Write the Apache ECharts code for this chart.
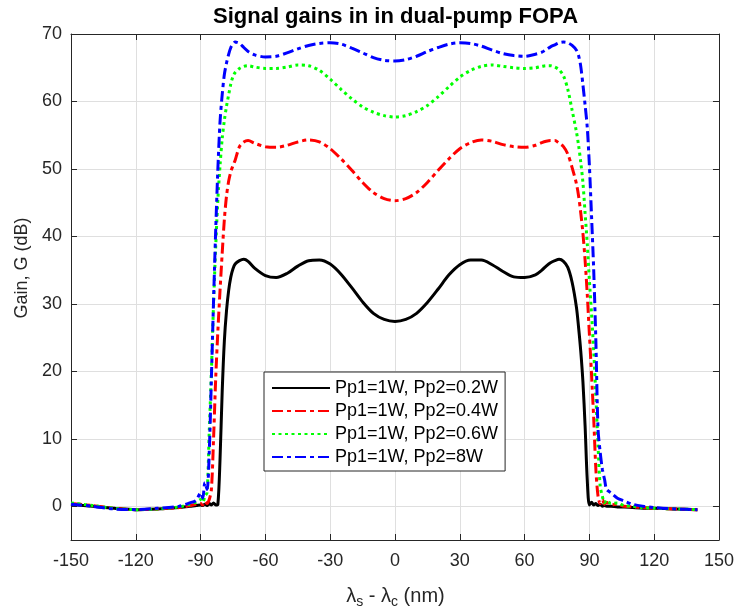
<!DOCTYPE html>
<html>
<head>
<meta charset="utf-8">
<script src="https://cdn.jsdelivr.net/npm/echarts@6/dist/echarts.min.js"></script>
<style>html,body{margin:0;padding:0;background:#fff}#c{width:737px;height:609px}</style>
</head>
<body>
<div id="c"></div>
<script>
// signal wavelength offset (nm)
const waveNm = [-150,-140,-130,-120,-110,-100,-95,-92,-90,-89,-88,-87,-86,-85,-84,-83,-82,-81,-80,-79,-78,-77,-76,-75,-74,-72,-70,-68,-65,-60,-55,-50,-45,-40,-35,-30,-25,-20,-15,-10,-5,0,5,10,15,20,25,30,35,40,45,50,55,60,65,68,70,72,74,76,78,80,82,84,85,86,87,88,89,90,91,92,93,94,95,96,97,98,100,103,106,110,115,120,130,140];

// gain (dB), Pp1=1W, Pp2=0.2W
const gainPp2_02 = [0.3,0.0,-0.3,-0.5,-0.4,-0.2,0.0,0.1,0.2,0.1,0.3,0.1,0.4,0.2,0.5,0.2,0.3,7,17,24.5,29,32,34,35.2,35.9,36.4,36.6,36.3,35.3,34.2,33.9,34.5,35.6,36.4,36.5,35.9,34.4,32.4,30.3,28.6,27.7,27.4,27.7,28.6,30.2,32.2,34.3,35.8,36.5,36.5,35.8,34.8,34.0,33.9,34.3,35.0,35.6,36.1,36.4,36.6,36.3,35.4,33.2,29.5,26.5,23,18.5,12,4,0.2,0.6,0.2,0.4,0.1,0.3,0.0,0.1,0.0,0.0,-0.1,-0.1,-0.2,-0.3,-0.3,-0.4,-0.5];
// gain (dB), Pp1=1W, Pp2=0.4W
const gainPp2_04 = [0.4,0.1,-0.3,-0.5,-0.4,-0.2,0.1,0.3,0.4,0.2,0.7,0.4,1.0,2.5,10,19,26,32,37.5,42.5,46,48.2,49.6,50.5,51.3,53.3,54.0,54.2,53.8,53.3,53.2,53.5,54.0,54.3,54.0,53.0,51.5,49.8,48.0,46.5,45.6,45.3,45.6,46.5,48.0,49.8,51.5,53.0,53.9,54.3,54.1,53.6,53.3,53.2,53.5,53.9,54.1,54.2,54.2,53.8,53.3,52.2,50.2,47.8,46,43.5,40.5,36.5,31.5,25.5,19.5,13,5.5,1.5,0.4,1.0,0.3,0.6,0.2,0.3,0.0,-0.1,-0.2,-0.3,-0.4,-0.5];
// gain (dB), Pp1=1W, Pp2=0.6W
const gainPp2_06 = [0.5,0.1,-0.3,-0.5,-0.4,-0.1,0.3,0.6,1.0,0.6,1.5,2.0,11,20,30,38.5,45.5,50.5,54.5,57.2,59.3,61,62.6,63.7,64.3,64.9,65.2,65.3,65.1,64.9,64.9,65.1,65.4,65.3,64.6,63.3,61.8,60.4,59.2,58.4,57.9,57.7,57.9,58.5,59.4,60.7,62.2,63.6,64.6,65.2,65.4,65.2,65.0,64.9,65.0,65.2,65.3,65.3,65.1,64.7,63.8,61.8,58.7,55.5,53.5,51,48,43.5,39,33.5,28.5,23,16.3,9,3,1.5,0.5,0.9,0.4,0.5,0.1,0.0,-0.2,-0.3,-0.4,-0.5];
// gain (dB), Pp1=1W, Pp2=8W
const gainPp2_8 = [0.3,0.0,-0.4,-0.5,-0.3,0.0,0.5,0.9,2.0,1.2,3.5,2.5,8,19,30.5,41,50,57,61,64,65.7,67,68,68.5,68.8,68.6,68.0,67.4,66.9,66.6,66.7,67.2,67.8,68.3,68.6,68.7,68.5,67.9,67.2,66.5,66.1,66.0,66.2,66.7,67.4,68.0,68.5,68.7,68.6,68.2,67.6,67.1,66.8,66.7,67.0,67.3,67.7,68.1,68.4,68.7,68.8,68.7,68.3,67.6,66.8,65.2,62.5,59.5,56.2,50.5,43,35,24.5,11.5,8,5.5,4,2.5,2.0,1.2,0.8,0.3,0.0,-0.2,-0.4,-0.5];

const legendLabels = ['Pp1=1W, Pp2=0.2W','Pp1=1W, Pp2=0.4W','Pp1=1W, Pp2=0.6W','Pp1=1W, Pp2=8W'];
const xTickValues = [-150,-120,-90,-60,-30,0,30,60,90,120,150];
const yTickValues = [0,10,20,30,40,50,60,70];

const FONT = '"Liberation Sans", Arial, Helvetica, sans-serif';
const AX = '#262626';
const GRIDC = '#dfdfdf';

const seriesDefs = [
  {name: legendLabels[0], ys: gainPp2_02, color: '#000000', dash: 'solid'},
  {name: legendLabels[1], ys: gainPp2_04, color: '#ff0000', dash: [11,4,4,4]},
  {name: legendLabels[2], ys: gainPp2_06, color: '#00ff00', dash: [3,3.5]},
  {name: legendLabels[3], ys: gainPp2_8,  color: '#0000ff', dash: [11,4,4,4]}
];

function xAxisDef(pos, main) {
  return {
    type: 'value', position: pos, min: xTickValues[0], max: xTickValues[xTickValues.length-1], interval: 30,
    axisLine: {show: true, onZero: false, lineStyle: {color: AX, width: 1}},
    axisTick: {show: true, inside: true, length: 6, lineStyle: {color: AX, width: 1}},
    axisLabel: {show: main, fontFamily: FONT, fontSize: 18, color: AX, margin: 12},
    splitLine: {show: main, lineStyle: {color: GRIDC, width: 1}}
  };
}
function yAxisDef(pos, main) {
  return {
    type: 'value', position: pos, min: -5, max: 70,
    axisLine: {show: true, onZero: false, lineStyle: {color: AX, width: 1}},
    axisTick: {show: true, inside: true, length: 6, customValues: yTickValues, lineStyle: {color: AX, width: 1}},
    axisLabel: {show: main, customValues: yTickValues, fontFamily: FONT, fontSize: 18, color: AX, margin: 9},
    splitLine: {show: main, lineStyle: {color: GRIDC, width: 1}}
  };
}

const chart = echarts.init(document.getElementById('c'), null, {renderer: 'canvas'});
chart.setOption({
  animation: false,
  backgroundColor: '#ffffff',
  title: {
    text: 'Signal gains in in dual-pump FOPA', left: 395.5, top: 6, textAlign: 'center', padding: 0,
    textStyle: {fontFamily: FONT, fontSize: 22, fontWeight: 'bold', color: '#000'}
  },
  grid: {left: 71, right: 17, top: 34, bottom: 69},
  legend: {
    orient: 'vertical', left: 264, top: 372, backgroundColor: '#fff', borderColor: AX, borderWidth: 1,
    padding: [6, 7, 4, 7], itemWidth: 58, itemHeight: 14, itemGap: 3, selectedMode: false,
    itemStyle: {opacity: 0},
    textStyle: {fontFamily: FONT, fontSize: 18, color: '#000', lineHeight: 20},
    data: legendLabels
  },
  xAxis: [xAxisDef('bottom', true), xAxisDef('top', false)],
  yAxis: [yAxisDef('left', true), yAxisDef('right', false)],
  series: seriesDefs.map(d => ({
    type: 'line', name: d.name, xAxisIndex: 0, yAxisIndex: 0,
    data: waveNm.map((x, i) => [x, d.ys[i]]),
    showSymbol: false, symbol: 'none', smooth: 0.3,
    lineStyle: {color: d.color, width: 3, type: d.dash, cap: 'butt'},
    itemStyle: {color: d.color}
  })),
  graphic: [
    {type: 'text', x: 22, y: 268, rotation: Math.PI / 2,
     style: {text: 'Gain, G (dB)', fill: AX, font: '18px ' + FONT, align: 'center', verticalAlign: 'middle'}},
    {type: 'text', x: 395.5, y: 596,
     style: {text: '{m|λ}{b|s}{m| - λ}{b|c}{m| (nm)}', align: 'center', verticalAlign: 'middle',
       rich: {
         m: {fontSize: 20, fontFamily: FONT, fill: AX},
         b: {fontSize: 14, fontFamily: FONT, fill: AX, padding: [12, 0, 0, 0]}
       }}}
  ]
});
</script>
</body>
</html>
